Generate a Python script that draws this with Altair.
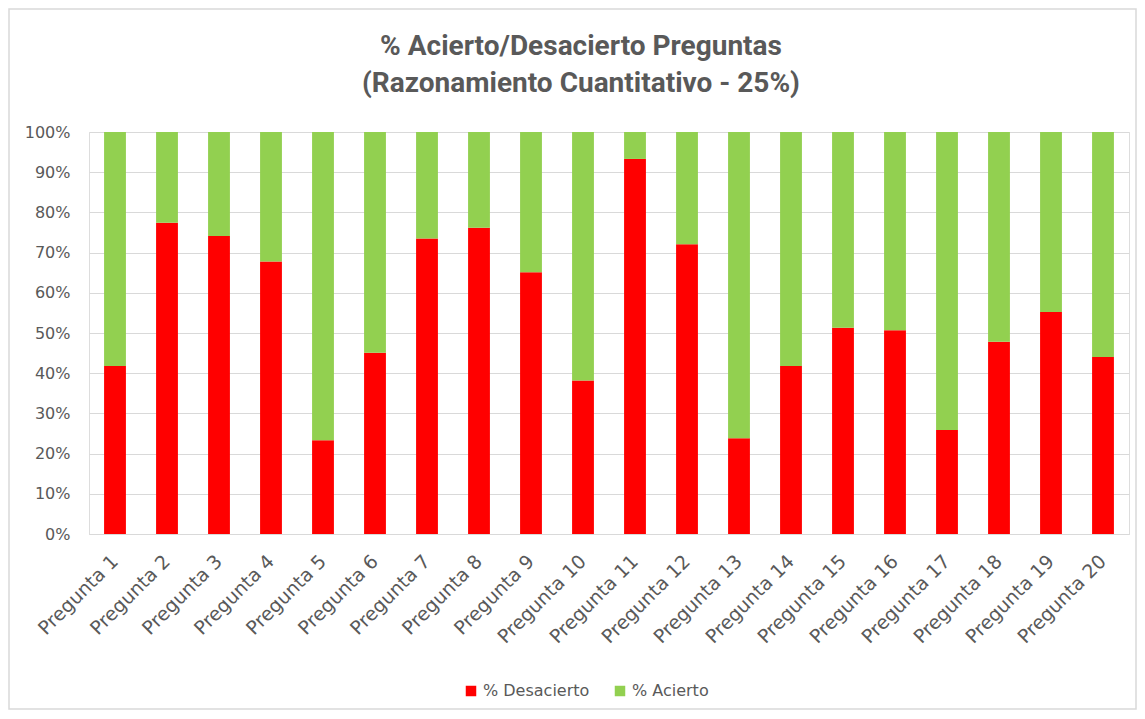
import altair as alt
import pandas as pd

preguntas = [f"Pregunta {i}" for i in range(1, 21)]
desacierto = [41.8, 77.4, 74.1, 67.8, 23.3, 45.1, 73.5, 76.2, 65.1, 38.2,
              93.3, 72.1, 23.8, 41.8, 51.3, 50.7, 25.9, 47.8, 55.2, 44.0]
acierto = [58.2, 22.6, 25.9, 32.2, 76.7, 54.9, 26.5, 23.8, 34.9, 61.8,
           6.7, 27.9, 76.2, 58.2, 48.7, 49.3, 74.1, 52.2, 44.8, 56.0]
series = ["% Desacierto", "% Acierto"]
colors = ["#FF0000", "#92D050"]

rows = []
for p, d, a in zip(preguntas, desacierto, acierto):
    rows.append({"Pregunta": p, "Serie": series[0], "Valor": d, "orden": 0})
    rows.append({"Pregunta": p, "Serie": series[1], "Valor": a, "orden": 1})
df = pd.DataFrame(rows)

TXT = "#595959"
FONT = "DejaVu Sans"

W, H = 1040, 402
PAD = {"left": 81, "top": 124, "right": 8, "bottom": 176}

border = alt.Chart(pd.DataFrame({"k": [0]})).mark_rect(
    fill=None, stroke="#d9d9d9", strokeWidth=1.5
).encode(
    x=alt.value(-PAD["left"] + 1),
    x2=alt.value(W + PAD["right"] - 1),
    y=alt.value(-PAD["top"] + 1),
    y2=alt.value(H + PAD["bottom"] - 1),
)

bars = alt.Chart(df).mark_bar().encode(
    x=alt.X("Pregunta:N", sort=preguntas,
            scale=alt.Scale(paddingInner=0.58, paddingOuter=0.29),
            axis=alt.Axis(title=None, labelAngle=-45, labelAlign="right",
                          labelBaseline="middle", labelFontSize=19,
                          labelColor=TXT, labelFont=FONT, ticks=False,
                          labelPadding=24, domainColor="#d9d9d9",
                          labelOverlap=False)),
    y=alt.Y("Valor:Q", stack="normalize",
            scale=alt.Scale(domain=[0, 1]),
            axis=alt.Axis(title=None, format="%", values=[i / 10 for i in range(11)],
                          labelFontSize=16, labelColor=TXT, labelFont=FONT,
                          ticks=False, domain=False, labelPadding=19,
                          gridColor="#d9d9d9", gridWidth=1)),
    color=alt.Color("Serie:N", sort=series,
                    scale=alt.Scale(domain=series, range=colors),
                    legend=alt.Legend(title=None, orient="none", direction="horizontal",
                                      legendX=374, legendY=551, symbolType="square",
                                      symbolSize=110, labelFontSize=16,
                                      labelColor=TXT, labelFont=FONT,
                                      symbolStrokeWidth=0, columnPadding=22)),
    order=alt.Order("orden:Q", sort="ascending"),
)

chart = alt.layer(border, bars).properties(
    width=W,
    height=H,
    autosize=alt.AutoSizeParams(type="none"),
    padding=PAD,
    title=alt.TitleParams(
        text=["% Acierto/Desacierto Preguntas", "(Razonamiento Cuantitativo - 25%)"],
        font="Roboto", fontSize=28, fontWeight="bold",
        color=TXT, anchor="middle", dx=-28, offset=-90, lineHeight=37,
    ),
).configure_view(stroke=None).configure(background="white")

chart.save("out.html", embed_options={"renderer": "svg", "actions": False})
